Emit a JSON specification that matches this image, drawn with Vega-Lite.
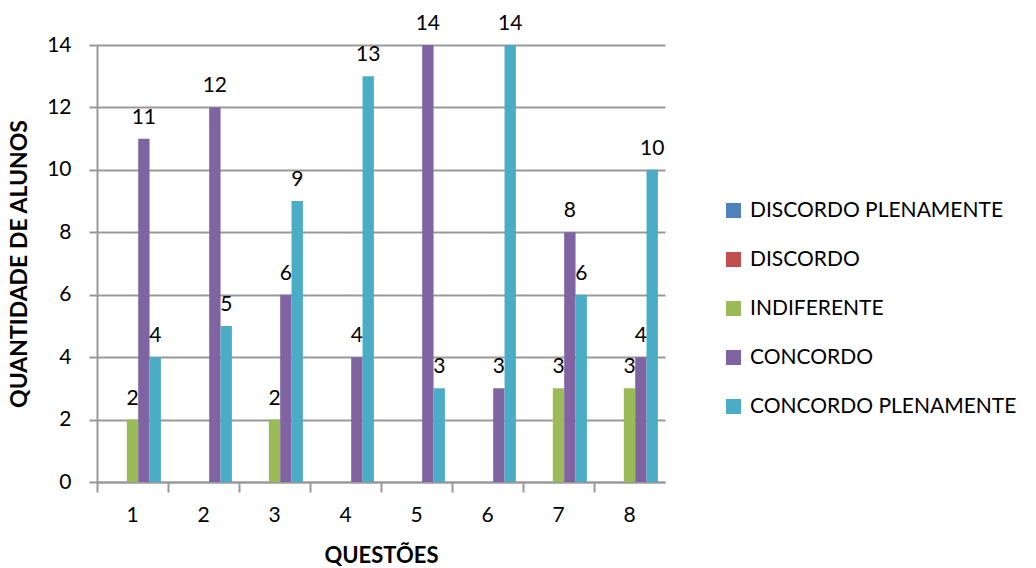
{
  "$schema": "https://vega.github.io/schema/vega-lite/v6.json",
  "width": 568,
  "height": 437,
  "autosize": {"type": "none"},
  "padding": {"left": 97, "top": 45, "right": 371, "bottom": 86},
  "background": "white",
  "config": {
    "view": {"stroke": null},
    "font": "Lato"
  },
  "data": {
    "values": [
      {"q": "1", "r": "INDIFERENTE", "v": 2},
      {"q": "1", "r": "CONCORDO", "v": 11},
      {"q": "1", "r": "CONCORDO PLENAMENTE", "v": 4},
      {"q": "2", "r": "CONCORDO", "v": 12},
      {"q": "2", "r": "CONCORDO PLENAMENTE", "v": 5},
      {"q": "3", "r": "INDIFERENTE", "v": 2},
      {"q": "3", "r": "CONCORDO", "v": 6},
      {"q": "3", "r": "CONCORDO PLENAMENTE", "v": 9},
      {"q": "4", "r": "CONCORDO", "v": 4},
      {"q": "4", "r": "CONCORDO PLENAMENTE", "v": 13},
      {"q": "5", "r": "CONCORDO", "v": 14},
      {"q": "5", "r": "CONCORDO PLENAMENTE", "v": 3},
      {"q": "6", "r": "CONCORDO", "v": 3},
      {"q": "6", "r": "CONCORDO PLENAMENTE", "v": 14},
      {"q": "7", "r": "INDIFERENTE", "v": 3},
      {"q": "7", "r": "CONCORDO", "v": 8},
      {"q": "7", "r": "CONCORDO PLENAMENTE", "v": 6},
      {"q": "8", "r": "INDIFERENTE", "v": 3},
      {"q": "8", "r": "CONCORDO", "v": 4},
      {"q": "8", "r": "CONCORDO PLENAMENTE", "v": 10}
    ]
  },
  "encoding": {
    "x": {
      "field": "q",
      "type": "nominal",
      "sort": ["1", "2", "3", "4", "5", "6", "7", "8"],
      "scale": {"paddingInner": 0.2, "paddingOuter": 0.1},
      "axis": {
        "title": "QUESTÕES",
        "titleFontSize": 22,
        "titleFontWeight": "bold",
        "titleColor": "#000",
        "titlePadding": 20,
        "labelAngle": 0,
        "labelFontSize": 21,
        "labelColor": "#000",
        "labelPadding": 12,
        "tickSize": 10,
        "tickColor": "#999",
        "tickWidth": 2,
        "domainColor": "#999",
        "domainWidth": 2,
        "bandPosition": -0.125
      }
    },
    "xOffset": {
      "field": "r",
      "type": "nominal",
      "scale": {"domain": ["DISCORDO PLENAMENTE", "DISCORDO", "INDIFERENTE", "CONCORDO", "CONCORDO PLENAMENTE"], "paddingInner": 0, "paddingOuter": 0}
    },
    "y": {
      "field": "v",
      "type": "quantitative",
      "scale": {"domain": [0, 14]},
      "axis": {
        "title": "QUANTIDADE DE ALUNOS",
        "titleFontSize": 23,
        "titleFontWeight": "bold",
        "titleColor": "#000",
        "titlePadding": 15,
        "values": [0, 2, 4, 6, 8, 10, 12, 14],
        "labelFontSize": 21,
        "labelColor": "#000",
        "labelPadding": 18,
        "tickSize": 8,
        "tickColor": "#999",
        "tickWidth": 2,
        "domainColor": "#999",
        "domainWidth": 2,
        "grid": true,
        "gridColor": "#999",
        "gridWidth": 2
      }
    }
  },
  "layer": [
    {
      "mark": {"type": "bar"},
      "encoding": {
        "color": {
          "field": "r",
          "type": "nominal",
          "scale": {
            "domain": ["DISCORDO PLENAMENTE", "DISCORDO", "INDIFERENTE", "CONCORDO", "CONCORDO PLENAMENTE"],
            "range": ["#4F81BD", "#C0504D", "#9BBB59", "#8064A2", "#4BACC6"]
          },
          "legend": {
            "title": null,
            "orient": "none",
            "legendX": 626,
            "legendY": 155,
            "symbolType": "square",
            "symbolSize": 225,
            "symbolStrokeWidth": 0,
            "labelFontSize": 21,
            "labelColor": "#000",
            "labelOffset": 6,
            "labelLimit": 0,
            "rowPadding": 27
          }
        }
      }
    },
    {
      "mark": {"type": "text", "baseline": "alphabetic", "dy": -15, "fontSize": 21, "color": "#000"},
      "encoding": {
        "text": {"field": "v", "type": "quantitative"}
      }
    }
  ]
}
